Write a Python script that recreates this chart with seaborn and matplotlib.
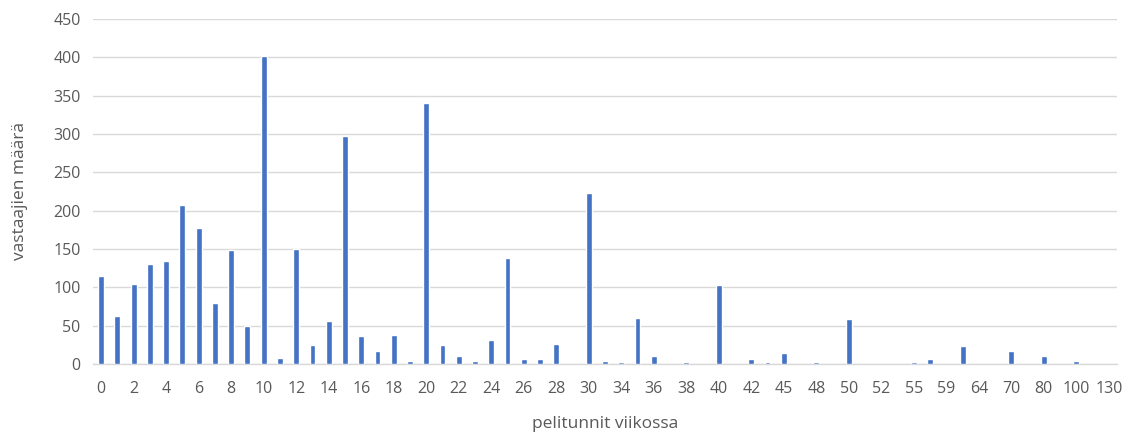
import matplotlib
matplotlib.use("Agg")
import matplotlib.pyplot as plt
import seaborn as sns
import pandas as pd

# weekly gaming hours (category labels) and respondent counts
hours = ["0", "1", "2", "3", "4", "5", "6", "7", "8", "9",
         "10", "11", "12", "13", "14", "15", "16", "17", "18", "19",
         "20", "21", "22", "23", "24", "25", "26", "27", "28", "29",
         "30", "32", "34", "35", "36", "37", "38", "39", "40", "41",
         "42", "44", "45", "46", "48", "49", "50", "51", "52", "54",
         "55", "56", "59", "60", "64", "65", "70", "75", "80", "90",
         "100", "120", "130"]
counts = [115, 63, 105, 131, 134, 207, 177, 80, 149, 50,
          402, 8, 150, 25, 56, 298, 36, 17, 38, 4,
          340, 25, 10, 4, 31, 138, 6, 7, 26, 0,
          223, 4, 2, 60, 10, 0, 2, 0, 103, 0,
          6, 2, 14, 0, 2, 0, 59, 0, 0, 0,
          2, 6, 0, 23, 0, 0, 17, 0, 10, 0,
          4, 0, 0]

df = pd.DataFrame({"hours": hours, "count": counts})

sns.set_theme(style="white")
plt.rcParams["font.family"] = ["Open Sans", "DejaVu Sans"]
text_col = "#595959"

fig = plt.figure(figsize=(11.36, 4.32), dpi=100)
ax = fig.add_axes([93 / 1136, 68 / 432, 1024 / 1136, 345 / 432])

sns.barplot(data=df, x="hours", y="count", order=hours, color="#4472C4",
            width=0.36, saturation=1, ax=ax, zorder=3)

ax.set_ylim(0, 450)
ax.set_xlim(-0.5, len(hours) - 0.5)
ax.set_yticks(range(0, 451, 50))
ax.yaxis.grid(True, color="#D9D9D9", linewidth=1, zorder=0)
ax.xaxis.grid(False)
for s in ["top", "right", "left"]:
    ax.spines[s].set_visible(False)
ax.spines["bottom"].set_color("#D9D9D9")
ax.spines["bottom"].set_linewidth(1)

ax.set_xticks(range(0, len(hours), 2))
ax.set_xticklabels(hours[::2])
ax.tick_params(axis="both", length=0, labelsize=11.5, colors=text_col)
ax.tick_params(axis="x", pad=12)
ax.tick_params(axis="y", pad=9)

ax.set_xlabel("pelitunnit viikossa", fontsize=12.5, color=text_col, labelpad=14)
ax.set_ylabel("vastaajien määrä", fontsize=12.5, color=text_col, labelpad=18)

fig.savefig("out.png", dpi=100, facecolor="white")
